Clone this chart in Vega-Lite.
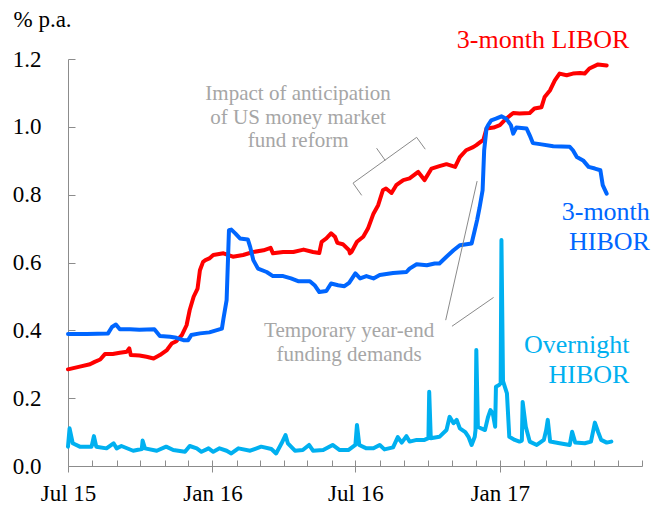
{
  "$schema": "https://vega.github.io/schema/vega-lite/v6.json",
  "width": 574,
  "height": 407,
  "autosize": {"type": "none"},
  "padding": {"left": 68, "top": 59, "right": 11, "bottom": 43},
  "background": "#ffffff",
  "config": {
    "view": {"stroke": null},
    "font": "Liberation Serif",
    "axis": {"grid": false, "labelFont": "Liberation Serif", "labelFontSize": 23, "labelColor": "#000000", "domainColor": "#8c8c8c", "tickColor": "#8c8c8c", "titleFont": "Liberation Serif", "labelFlush": false}
  },
  "resolve": {"axis": {"x": "independent"}},
  "layer": [
    {
      "data": {"values": [
        {"date":"2015-07-01","value":0.285,"series":"3-month LIBOR"},
        {"date":"2015-07-16","value":0.293,"series":"3-month LIBOR"},
        {"date":"2015-07-29","value":0.300,"series":"3-month LIBOR"},
        {"date":"2015-08-04","value":0.307,"series":"3-month LIBOR"},
        {"date":"2015-08-11","value":0.314,"series":"3-month LIBOR"},
        {"date":"2015-08-17","value":0.330,"series":"3-month LIBOR"},
        {"date":"2015-08-27","value":0.330,"series":"3-month LIBOR"},
        {"date":"2015-09-05","value":0.334,"series":"3-month LIBOR"},
        {"date":"2015-09-14","value":0.337,"series":"3-month LIBOR"},
        {"date":"2015-09-17","value":0.347,"series":"3-month LIBOR"},
        {"date":"2015-09-19","value":0.327,"series":"3-month LIBOR"},
        {"date":"2015-09-30","value":0.326,"series":"3-month LIBOR"},
        {"date":"2015-10-09","value":0.322,"series":"3-month LIBOR"},
        {"date":"2015-10-18","value":0.317,"series":"3-month LIBOR"},
        {"date":"2015-10-26","value":0.327,"series":"3-month LIBOR"},
        {"date":"2015-11-04","value":0.342,"series":"3-month LIBOR"},
        {"date":"2015-11-10","value":0.361,"series":"3-month LIBOR"},
        {"date":"2015-11-16","value":0.368,"series":"3-month LIBOR"},
        {"date":"2015-11-23","value":0.386,"series":"3-month LIBOR"},
        {"date":"2015-11-29","value":0.415,"series":"3-month LIBOR"},
        {"date":"2015-12-03","value":0.460,"series":"3-month LIBOR"},
        {"date":"2015-12-08","value":0.499,"series":"3-month LIBOR"},
        {"date":"2015-12-13","value":0.523,"series":"3-month LIBOR"},
        {"date":"2015-12-16","value":0.577,"series":"3-month LIBOR"},
        {"date":"2015-12-20","value":0.602,"series":"3-month LIBOR"},
        {"date":"2015-12-23","value":0.607,"series":"3-month LIBOR"},
        {"date":"2015-12-28","value":0.612,"series":"3-month LIBOR"},
        {"date":"2016-01-02","value":0.622,"series":"3-month LIBOR"},
        {"date":"2016-01-15","value":0.627,"series":"3-month LIBOR"},
        {"date":"2016-01-27","value":0.617,"series":"3-month LIBOR"},
        {"date":"2016-02-09","value":0.622,"series":"3-month LIBOR"},
        {"date":"2016-02-22","value":0.631,"series":"3-month LIBOR"},
        {"date":"2016-03-06","value":0.636,"series":"3-month LIBOR"},
        {"date":"2016-03-15","value":0.643,"series":"3-month LIBOR"},
        {"date":"2016-03-18","value":0.627,"series":"3-month LIBOR"},
        {"date":"2016-03-31","value":0.631,"series":"3-month LIBOR"},
        {"date":"2016-04-13","value":0.631,"series":"3-month LIBOR"},
        {"date":"2016-04-26","value":0.638,"series":"3-month LIBOR"},
        {"date":"2016-05-08","value":0.631,"series":"3-month LIBOR"},
        {"date":"2016-05-16","value":0.628,"series":"3-month LIBOR"},
        {"date":"2016-05-19","value":0.661,"series":"3-month LIBOR"},
        {"date":"2016-05-25","value":0.671,"series":"3-month LIBOR"},
        {"date":"2016-05-31","value":0.686,"series":"3-month LIBOR"},
        {"date":"2016-06-05","value":0.676,"series":"3-month LIBOR"},
        {"date":"2016-06-08","value":0.658,"series":"3-month LIBOR"},
        {"date":"2016-06-15","value":0.654,"series":"3-month LIBOR"},
        {"date":"2016-06-23","value":0.636,"series":"3-month LIBOR"},
        {"date":"2016-06-24","value":0.627,"series":"3-month LIBOR"},
        {"date":"2016-06-26","value":0.631,"series":"3-month LIBOR"},
        {"date":"2016-07-03","value":0.661,"series":"3-month LIBOR"},
        {"date":"2016-07-11","value":0.676,"series":"3-month LIBOR"},
        {"date":"2016-07-17","value":0.700,"series":"3-month LIBOR"},
        {"date":"2016-07-24","value":0.744,"series":"3-month LIBOR"},
        {"date":"2016-07-30","value":0.769,"series":"3-month LIBOR"},
        {"date":"2016-08-05","value":0.813,"series":"3-month LIBOR"},
        {"date":"2016-08-09","value":0.818,"series":"3-month LIBOR"},
        {"date":"2016-08-16","value":0.805,"series":"3-month LIBOR"},
        {"date":"2016-08-22","value":0.828,"series":"3-month LIBOR"},
        {"date":"2016-08-31","value":0.843,"series":"3-month LIBOR"},
        {"date":"2016-09-08","value":0.848,"series":"3-month LIBOR"},
        {"date":"2016-09-19","value":0.867,"series":"3-month LIBOR"},
        {"date":"2016-09-27","value":0.843,"series":"3-month LIBOR"},
        {"date":"2016-10-06","value":0.877,"series":"3-month LIBOR"},
        {"date":"2016-10-16","value":0.884,"series":"3-month LIBOR"},
        {"date":"2016-10-25","value":0.890,"series":"3-month LIBOR"},
        {"date":"2016-11-05","value":0.882,"series":"3-month LIBOR"},
        {"date":"2016-11-11","value":0.911,"series":"3-month LIBOR"},
        {"date":"2016-11-19","value":0.931,"series":"3-month LIBOR"},
        {"date":"2016-11-28","value":0.940,"series":"3-month LIBOR"},
        {"date":"2016-12-02","value":0.946,"series":"3-month LIBOR"},
        {"date":"2016-12-07","value":0.955,"series":"3-month LIBOR"},
        {"date":"2016-12-11","value":0.962,"series":"3-month LIBOR"},
        {"date":"2016-12-15","value":0.995,"series":"3-month LIBOR"},
        {"date":"2016-12-24","value":0.998,"series":"3-month LIBOR"},
        {"date":"2017-01-01","value":1.005,"series":"3-month LIBOR"},
        {"date":"2017-01-09","value":1.024,"series":"3-month LIBOR"},
        {"date":"2017-01-18","value":1.041,"series":"3-month LIBOR"},
        {"date":"2017-01-26","value":1.039,"series":"3-month LIBOR"},
        {"date":"2017-02-08","value":1.041,"series":"3-month LIBOR"},
        {"date":"2017-02-14","value":1.054,"series":"3-month LIBOR"},
        {"date":"2017-02-23","value":1.058,"series":"3-month LIBOR"},
        {"date":"2017-02-27","value":1.088,"series":"3-month LIBOR"},
        {"date":"2017-03-06","value":1.108,"series":"3-month LIBOR"},
        {"date":"2017-03-12","value":1.137,"series":"3-month LIBOR"},
        {"date":"2017-03-18","value":1.157,"series":"3-month LIBOR"},
        {"date":"2017-03-27","value":1.152,"series":"3-month LIBOR"},
        {"date":"2017-04-04","value":1.157,"series":"3-month LIBOR"},
        {"date":"2017-04-13","value":1.159,"series":"3-month LIBOR"},
        {"date":"2017-04-19","value":1.157,"series":"3-month LIBOR"},
        {"date":"2017-04-25","value":1.172,"series":"3-month LIBOR"},
        {"date":"2017-05-06","value":1.184,"series":"3-month LIBOR"},
        {"date":"2017-05-17","value":1.181,"series":"3-month LIBOR"},

        {"date":"2015-07-01","value":0.389,"series":"3-month HIBOR"},
        {"date":"2015-07-25","value":0.389,"series":"3-month HIBOR"},
        {"date":"2015-08-21","value":0.391,"series":"3-month HIBOR"},
        {"date":"2015-08-26","value":0.410,"series":"3-month HIBOR"},
        {"date":"2015-08-31","value":0.417,"series":"3-month HIBOR"},
        {"date":"2015-09-05","value":0.403,"series":"3-month HIBOR"},
        {"date":"2015-09-18","value":0.403,"series":"3-month HIBOR"},
        {"date":"2015-09-30","value":0.402,"series":"3-month HIBOR"},
        {"date":"2015-10-19","value":0.403,"series":"3-month HIBOR"},
        {"date":"2015-10-26","value":0.383,"series":"3-month HIBOR"},
        {"date":"2015-11-08","value":0.381,"series":"3-month HIBOR"},
        {"date":"2015-11-16","value":0.378,"series":"3-month HIBOR"},
        {"date":"2015-11-25","value":0.371,"series":"3-month HIBOR"},
        {"date":"2015-12-01","value":0.371,"series":"3-month HIBOR"},
        {"date":"2015-12-05","value":0.386,"series":"3-month HIBOR"},
        {"date":"2015-12-16","value":0.391,"series":"3-month HIBOR"},
        {"date":"2015-12-28","value":0.394,"series":"3-month HIBOR"},
        {"date":"2016-01-13","value":0.405,"series":"3-month HIBOR"},
        {"date":"2016-01-15","value":0.435,"series":"3-month HIBOR"},
        {"date":"2016-01-19","value":0.489,"series":"3-month HIBOR"},
        {"date":"2016-01-22","value":0.695,"series":"3-month HIBOR"},
        {"date":"2016-01-25","value":0.697,"series":"3-month HIBOR"},
        {"date":"2016-01-30","value":0.686,"series":"3-month HIBOR"},
        {"date":"2016-02-05","value":0.671,"series":"3-month HIBOR"},
        {"date":"2016-02-15","value":0.668,"series":"3-month HIBOR"},
        {"date":"2016-02-18","value":0.646,"series":"3-month HIBOR"},
        {"date":"2016-02-22","value":0.607,"series":"3-month HIBOR"},
        {"date":"2016-02-28","value":0.582,"series":"3-month HIBOR"},
        {"date":"2016-03-10","value":0.572,"series":"3-month HIBOR"},
        {"date":"2016-03-18","value":0.560,"series":"3-month HIBOR"},
        {"date":"2016-03-31","value":0.560,"series":"3-month HIBOR"},
        {"date":"2016-04-10","value":0.553,"series":"3-month HIBOR"},
        {"date":"2016-04-19","value":0.545,"series":"3-month HIBOR"},
        {"date":"2016-05-04","value":0.545,"series":"3-month HIBOR"},
        {"date":"2016-05-10","value":0.533,"series":"3-month HIBOR"},
        {"date":"2016-05-16","value":0.513,"series":"3-month HIBOR"},
        {"date":"2016-05-25","value":0.516,"series":"3-month HIBOR"},
        {"date":"2016-05-31","value":0.538,"series":"3-month HIBOR"},
        {"date":"2016-06-09","value":0.533,"series":"3-month HIBOR"},
        {"date":"2016-06-17","value":0.530,"series":"3-month HIBOR"},
        {"date":"2016-06-23","value":0.540,"series":"3-month HIBOR"},
        {"date":"2016-07-01","value":0.568,"series":"3-month HIBOR"},
        {"date":"2016-07-07","value":0.553,"series":"3-month HIBOR"},
        {"date":"2016-07-15","value":0.560,"series":"3-month HIBOR"},
        {"date":"2016-07-24","value":0.553,"series":"3-month HIBOR"},
        {"date":"2016-08-01","value":0.563,"series":"3-month HIBOR"},
        {"date":"2016-08-18","value":0.569,"series":"3-month HIBOR"},
        {"date":"2016-09-04","value":0.572,"series":"3-month HIBOR"},
        {"date":"2016-09-08","value":0.582,"series":"3-month HIBOR"},
        {"date":"2016-09-17","value":0.595,"series":"3-month HIBOR"},
        {"date":"2016-09-30","value":0.592,"series":"3-month HIBOR"},
        {"date":"2016-10-10","value":0.597,"series":"3-month HIBOR"},
        {"date":"2016-10-16","value":0.597,"series":"3-month HIBOR"},
        {"date":"2016-10-25","value":0.617,"series":"3-month HIBOR"},
        {"date":"2016-11-03","value":0.636,"series":"3-month HIBOR"},
        {"date":"2016-11-11","value":0.651,"series":"3-month HIBOR"},
        {"date":"2016-11-26","value":0.656,"series":"3-month HIBOR"},
        {"date":"2016-11-30","value":0.695,"series":"3-month HIBOR"},
        {"date":"2016-12-03","value":0.725,"series":"3-month HIBOR"},
        {"date":"2016-12-06","value":0.760,"series":"3-month HIBOR"},
        {"date":"2016-12-10","value":0.813,"series":"3-month HIBOR"},
        {"date":"2016-12-12","value":0.931,"series":"3-month HIBOR"},
        {"date":"2016-12-15","value":0.996,"series":"3-month HIBOR"},
        {"date":"2016-12-17","value":1.005,"series":"3-month HIBOR"},
        {"date":"2016-12-21","value":1.019,"series":"3-month HIBOR"},
        {"date":"2016-12-27","value":1.024,"series":"3-month HIBOR"},
        {"date":"2017-01-03","value":1.031,"series":"3-month HIBOR"},
        {"date":"2017-01-09","value":1.024,"series":"3-month HIBOR"},
        {"date":"2017-01-15","value":1.005,"series":"3-month HIBOR"},
        {"date":"2017-01-18","value":0.980,"series":"3-month HIBOR"},
        {"date":"2017-01-22","value":0.998,"series":"3-month HIBOR"},
        {"date":"2017-02-04","value":0.995,"series":"3-month HIBOR"},
        {"date":"2017-02-08","value":0.975,"series":"3-month HIBOR"},
        {"date":"2017-02-12","value":0.952,"series":"3-month HIBOR"},
        {"date":"2017-02-21","value":0.949,"series":"3-month HIBOR"},
        {"date":"2017-03-10","value":0.943,"series":"3-month HIBOR"},
        {"date":"2017-03-31","value":0.941,"series":"3-month HIBOR"},
        {"date":"2017-04-04","value":0.931,"series":"3-month HIBOR"},
        {"date":"2017-04-09","value":0.911,"series":"3-month HIBOR"},
        {"date":"2017-04-17","value":0.901,"series":"3-month HIBOR"},
        {"date":"2017-04-24","value":0.882,"series":"3-month HIBOR"},
        {"date":"2017-05-02","value":0.877,"series":"3-month HIBOR"},
        {"date":"2017-05-09","value":0.872,"series":"3-month HIBOR"},
        {"date":"2017-05-12","value":0.828,"series":"3-month HIBOR"},
        {"date":"2017-05-17","value":0.803,"series":"3-month HIBOR"},

        {"date":"2015-07-01","value":0.057,"series":"Overnight HIBOR"},
        {"date":"2015-07-03","value":0.111,"series":"Overnight HIBOR"},
        {"date":"2015-07-07","value":0.067,"series":"Overnight HIBOR"},
        {"date":"2015-07-16","value":0.057,"series":"Overnight HIBOR"},
        {"date":"2015-07-31","value":0.057,"series":"Overnight HIBOR"},
        {"date":"2015-08-03","value":0.088,"series":"Overnight HIBOR"},
        {"date":"2015-08-06","value":0.057,"series":"Overnight HIBOR"},
        {"date":"2015-08-19","value":0.052,"series":"Overnight HIBOR"},
        {"date":"2015-08-28","value":0.067,"series":"Overnight HIBOR"},
        {"date":"2015-09-01","value":0.052,"series":"Overnight HIBOR"},
        {"date":"2015-09-07","value":0.059,"series":"Overnight HIBOR"},
        {"date":"2015-09-22","value":0.045,"series":"Overnight HIBOR"},
        {"date":"2015-10-03","value":0.050,"series":"Overnight HIBOR"},
        {"date":"2015-10-04","value":0.075,"series":"Overnight HIBOR"},
        {"date":"2015-10-07","value":0.052,"series":"Overnight HIBOR"},
        {"date":"2015-10-22","value":0.045,"series":"Overnight HIBOR"},
        {"date":"2015-11-03","value":0.057,"series":"Overnight HIBOR"},
        {"date":"2015-11-12","value":0.047,"series":"Overnight HIBOR"},
        {"date":"2015-11-27","value":0.042,"series":"Overnight HIBOR"},
        {"date":"2015-12-03","value":0.059,"series":"Overnight HIBOR"},
        {"date":"2015-12-12","value":0.052,"series":"Overnight HIBOR"},
        {"date":"2015-12-18","value":0.042,"series":"Overnight HIBOR"},
        {"date":"2015-12-27","value":0.052,"series":"Overnight HIBOR"},
        {"date":"2016-01-02","value":0.042,"series":"Overnight HIBOR"},
        {"date":"2016-01-10","value":0.052,"series":"Overnight HIBOR"},
        {"date":"2016-01-19","value":0.045,"series":"Overnight HIBOR"},
        {"date":"2016-01-25","value":0.037,"series":"Overnight HIBOR"},
        {"date":"2016-02-03","value":0.052,"series":"Overnight HIBOR"},
        {"date":"2016-02-18","value":0.045,"series":"Overnight HIBOR"},
        {"date":"2016-03-03","value":0.057,"series":"Overnight HIBOR"},
        {"date":"2016-03-16","value":0.050,"series":"Overnight HIBOR"},
        {"date":"2016-03-22","value":0.037,"series":"Overnight HIBOR"},
        {"date":"2016-03-29","value":0.067,"series":"Overnight HIBOR"},
        {"date":"2016-04-03","value":0.091,"series":"Overnight HIBOR"},
        {"date":"2016-04-06","value":0.067,"series":"Overnight HIBOR"},
        {"date":"2016-04-15","value":0.045,"series":"Overnight HIBOR"},
        {"date":"2016-04-25","value":0.047,"series":"Overnight HIBOR"},
        {"date":"2016-05-03","value":0.062,"series":"Overnight HIBOR"},
        {"date":"2016-05-08","value":0.045,"series":"Overnight HIBOR"},
        {"date":"2016-05-21","value":0.047,"series":"Overnight HIBOR"},
        {"date":"2016-06-02","value":0.062,"series":"Overnight HIBOR"},
        {"date":"2016-06-11","value":0.047,"series":"Overnight HIBOR"},
        {"date":"2016-06-22","value":0.047,"series":"Overnight HIBOR"},
        {"date":"2016-07-01","value":0.062,"series":"Overnight HIBOR"},
        {"date":"2016-07-03","value":0.121,"series":"Overnight HIBOR"},
        {"date":"2016-07-06","value":0.062,"series":"Overnight HIBOR"},
        {"date":"2016-07-15","value":0.052,"series":"Overnight HIBOR"},
        {"date":"2016-07-24","value":0.052,"series":"Overnight HIBOR"},
        {"date":"2016-08-01","value":0.062,"series":"Overnight HIBOR"},
        {"date":"2016-08-07","value":0.049,"series":"Overnight HIBOR"},
        {"date":"2016-08-18","value":0.055,"series":"Overnight HIBOR"},
        {"date":"2016-08-24","value":0.085,"series":"Overnight HIBOR"},
        {"date":"2016-08-29","value":0.069,"series":"Overnight HIBOR"},
        {"date":"2016-09-04","value":0.088,"series":"Overnight HIBOR"},
        {"date":"2016-09-08","value":0.072,"series":"Overnight HIBOR"},
        {"date":"2016-09-17","value":0.077,"series":"Overnight HIBOR"},
        {"date":"2016-09-27","value":0.077,"series":"Overnight HIBOR"},
        {"date":"2016-10-02","value":0.082,"series":"Overnight HIBOR"},
        {"date":"2016-10-03","value":0.219,"series":"Overnight HIBOR"},
        {"date":"2016-10-05","value":0.082,"series":"Overnight HIBOR"},
        {"date":"2016-10-16","value":0.086,"series":"Overnight HIBOR"},
        {"date":"2016-10-25","value":0.106,"series":"Overnight HIBOR"},
        {"date":"2016-10-29","value":0.145,"series":"Overnight HIBOR"},
        {"date":"2016-11-03","value":0.126,"series":"Overnight HIBOR"},
        {"date":"2016-11-07","value":0.136,"series":"Overnight HIBOR"},
        {"date":"2016-11-11","value":0.111,"series":"Overnight HIBOR"},
        {"date":"2016-11-18","value":0.100,"series":"Overnight HIBOR"},
        {"date":"2016-11-22","value":0.086,"series":"Overnight HIBOR"},
        {"date":"2016-11-26","value":0.062,"series":"Overnight HIBOR"},
        {"date":"2016-11-30","value":0.086,"series":"Overnight HIBOR"},
        {"date":"2016-12-01","value":0.106,"series":"Overnight HIBOR"},
        {"date":"2016-12-02","value":0.342,"series":"Overnight HIBOR"},
        {"date":"2016-12-04","value":0.116,"series":"Overnight HIBOR"},
        {"date":"2016-12-09","value":0.110,"series":"Overnight HIBOR"},
        {"date":"2016-12-13","value":0.106,"series":"Overnight HIBOR"},
        {"date":"2016-12-17","value":0.145,"series":"Overnight HIBOR"},
        {"date":"2016-12-20","value":0.165,"series":"Overnight HIBOR"},
        {"date":"2016-12-23","value":0.155,"series":"Overnight HIBOR"},
        {"date":"2016-12-26","value":0.116,"series":"Overnight HIBOR"},
        {"date":"2016-12-27","value":0.234,"series":"Overnight HIBOR"},
        {"date":"2016-12-31","value":0.239,"series":"Overnight HIBOR"},
        {"date":"2017-01-02","value":0.245,"series":"Overnight HIBOR"},
        {"date":"2017-01-03","value":0.666,"series":"Overnight HIBOR"},
        {"date":"2017-01-05","value":0.250,"series":"Overnight HIBOR"},
        {"date":"2017-01-10","value":0.214,"series":"Overnight HIBOR"},
        {"date":"2017-01-13","value":0.086,"series":"Overnight HIBOR"},
        {"date":"2017-01-20","value":0.077,"series":"Overnight HIBOR"},
        {"date":"2017-01-26","value":0.072,"series":"Overnight HIBOR"},
        {"date":"2017-01-29","value":0.075,"series":"Overnight HIBOR"},
        {"date":"2017-01-30","value":0.189,"series":"Overnight HIBOR"},
        {"date":"2017-02-03","value":0.116,"series":"Overnight HIBOR"},
        {"date":"2017-02-08","value":0.072,"series":"Overnight HIBOR"},
        {"date":"2017-02-17","value":0.062,"series":"Overnight HIBOR"},
        {"date":"2017-02-26","value":0.077,"series":"Overnight HIBOR"},
        {"date":"2017-03-01","value":0.106,"series":"Overnight HIBOR"},
        {"date":"2017-03-03","value":0.136,"series":"Overnight HIBOR"},
        {"date":"2017-03-06","value":0.072,"series":"Overnight HIBOR"},
        {"date":"2017-03-18","value":0.067,"series":"Overnight HIBOR"},
        {"date":"2017-03-31","value":0.062,"series":"Overnight HIBOR"},
        {"date":"2017-04-03","value":0.101,"series":"Overnight HIBOR"},
        {"date":"2017-04-07","value":0.069,"series":"Overnight HIBOR"},
        {"date":"2017-04-19","value":0.067,"series":"Overnight HIBOR"},
        {"date":"2017-04-27","value":0.072,"series":"Overnight HIBOR"},
        {"date":"2017-05-02","value":0.128,"series":"Overnight HIBOR"},
        {"date":"2017-05-06","value":0.101,"series":"Overnight HIBOR"},
        {"date":"2017-05-10","value":0.077,"series":"Overnight HIBOR"},
        {"date":"2017-05-17","value":0.069,"series":"Overnight HIBOR"},
        {"date":"2017-05-23","value":0.072,"series":"Overnight HIBOR"}
      ]},
      "mark": {"type": "line", "strokeJoin": "round", "strokeCap": "round"},
      "encoding": {
        "x": {"field": "date", "type": "temporal",
              "scale": {"type": "utc", "domain": ["2015-07-01", "2017-07-01"], "nice": false},
              "axis": {"title": null, "labels": false, "tickCount": {"interval": "month", "step": 1}, "tickSize": -6, "domainColor": "#8c8c8c", "tickColor": "#8c8c8c"}},
        "y": {"field": "value", "type": "quantitative",
              "scale": {"domain": [0, 1.2], "nice": false},
              "axis": {"values": [0, 0.2, 0.4, 0.6, 0.8, 1.0, 1.2], "format": ".1f", "tickSize": -7, "labelPadding": 34,
                       "labelFont": "Liberation Serif", "labelFontSize": 23, "labelColor": "#000000", "labelFlush": false,
                       "domainColor": "#8c8c8c", "tickColor": "#8c8c8c",
                       "title": "% p.a.", "titleAngle": 0, "titleAlign": "left", "titleBaseline": "alphabetic",
                       "titleX": -55, "titleY": -33, "titleFont": "Liberation Serif", "titleFontSize": 23, "titleFontWeight": "normal", "titleColor": "#000000"}},
        "color": {"field": "series", "type": "nominal",
                  "scale": {"domain": ["3-month LIBOR", "3-month HIBOR", "Overnight HIBOR"], "range": ["#ff0000", "#0066ff", "#00b0f0"]},
                  "legend": null},
        "strokeWidth": {"field": "series", "type": "nominal",
                  "scale": {"domain": ["3-month LIBOR", "3-month HIBOR", "Overnight HIBOR"], "range": [4, 4, 3]},
                  "legend": null}
      }
    },
    {
      "data": {"values": [
        {"date":"2016-06-28","value":0.834,"date2":"2016-09-17","value2":0.969},
        {"date":"2016-06-28","value":0.834,"date2":"2016-07-09","value2":0.798},
        {"date":"2016-09-17","value":0.969,"date2":"2016-09-28","value2":0.934},
        {"date":"2016-08-08","value":0.901,"date2":"2016-07-28","value2":0.937},
        {"date":"2016-12-03","value":0.840,"date2":"2016-10-24","value2":0.430},
        {"date":"2016-12-24","value":0.497,"date2":"2016-11-01","value2":0.412}
      ]},
      "mark": {"type": "rule", "color": "#8a8a8a", "strokeWidth": 1},
      "encoding": {
        "x": {"field": "date", "type": "temporal",
              "axis": {"orient": "bottom", "title": null, "domain": false, "tickSize": 6, "labelPadding": 10,
                       "tickColor": "#8c8c8c", "labelFlush": false, "labelAlign": "center",
                       "labelFont": "Liberation Serif", "labelFontSize": 23, "labelColor": "#000000",
                       "values": ["2015-07-01", "2016-01-01", "2016-07-01", "2017-01-01"],
                       "labelExpr": "utcFormat(datum.value, '%b %y')", "labelBaseline": "top"}},
        "x2": {"field": "date2"},
        "y": {"field": "value", "type": "quantitative"},
        "y2": {"field": "value2"}
      }
    },
    {
      "data": {"values": [
        {"date":"2016-04-19","value":1.078,"label":"Impact of anticipation\nof US money market\nfund reform"},
        {"date":"2016-06-23","value":0.380,"label":"Temporary year-end\nfunding demands"}
      ]},
      "mark": {"type": "text", "align": "center", "baseline": "alphabetic", "font": "Liberation Serif", "fontSize": 21, "color": "#a6a6a6", "lineBreak": "\n", "lineHeight": 23.5},
      "encoding": {
        "x": {"field": "date", "type": "temporal", "axis": null},
        "y": {"field": "value", "type": "quantitative"},
        "text": {"field": "label"}
      }
    },
    {
      "data": {"values": [
        {"date":"2017-06-15","value":1.231,"label":"3-month LIBOR","series":"3-month LIBOR"},
        {"date":"2017-07-11","value":0.725,"label":"3-month\nHIBOR","series":"3-month HIBOR"},
        {"date":"2017-06-15","value":0.333,"label":"Overnight\nHIBOR","series":"Overnight HIBOR"}
      ]},
      "mark": {"type": "text", "align": "right", "baseline": "alphabetic", "font": "Liberation Serif", "fontSize": 26, "lineBreak": "\n", "lineHeight": 29.5},
      "encoding": {
        "x": {"field": "date", "type": "temporal", "axis": null},
        "y": {"field": "value", "type": "quantitative"},
        "text": {"field": "label"},
        "color": {"field": "series", "type": "nominal", "legend": null}
      }
    }
  ]
}
